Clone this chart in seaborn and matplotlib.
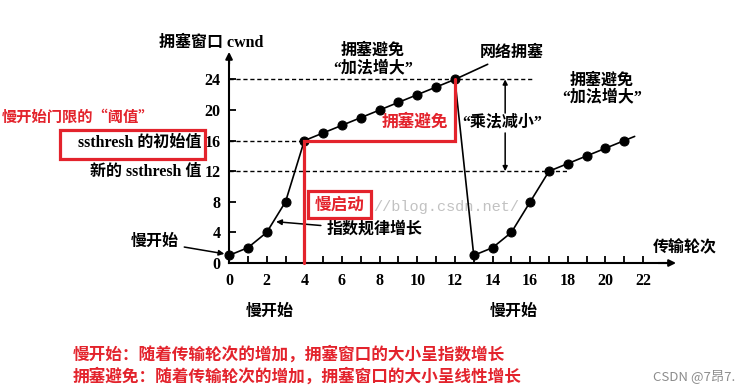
import matplotlib
matplotlib.use("Agg")
import matplotlib.pyplot as plt
from matplotlib.patches import Rectangle
import pandas as pd
import seaborn as sns

# 传输轮次与拥塞窗口 cwnd
rounds = list(range(0, 22))
cwnd = [1, 2, 4, 8, 16, 17, 18, 19, 20, 21, 22, 23, 24,
        1, 2, 4, 8, 12, 13, 14, 15, 16]
x_ticks = list(range(0, 23))
x_labels = [str(t) if t % 2 == 0 else "" for t in x_ticks]
y_ticks = [0, 4, 8, 12, 16, 20, 24]

ssthresh_init = 16
ssthresh_new = 12
cwnd_peak = 24
slow_start_end = 4       # 慢启动结束的轮次
congestion_round = 12    # 网络拥塞发生的轮次

RED = "#e3232c"
MIX = ["Liberation Serif", "Noto Sans CJK SC"]
CJK = ["Noto Sans CJK SC", "DejaVu Sans"]

sns.set_theme(style="white")
plt.rcParams["font.family"] = MIX

fig = plt.figure(figsize=(7.41, 3.90), dpi=100)
ax = fig.add_axes([0, 0, 1, 1])
ax.set_xlim(-12.17, 27.20)
ax.set_ylim(-16.60, 34.38)

df = pd.DataFrame({"round": rounds, "cwnd": cwnd})

# 参考虚线
ax.hlines([cwnd_peak, ssthresh_init, ssthresh_new], xmin=0,
          xmax=[16.15, slow_start_end, 18.0], colors="black",
          linestyles=(0, (3, 2)), linewidth=1.0, zorder=1)

# 水印
ax.text(7.65, 7.3, "//blog.csdn.net/", family="Liberation Mono", fontsize=11,
        color="#c2c2c2", ha="left", va="center", zorder=0)

# 主曲线
sns.lineplot(data=df, x="round", y="cwnd", sort=False, estimator=None,
             color="black", linewidth=1.2, marker="o", markersize=6.5,
             markeredgecolor="black", ax=ax, zorder=3)
tail_x = rounds[-1] + 0.55 * (rounds[-1] - rounds[-2])
tail_y = cwnd[-1] + 0.55 * (cwnd[-1] - cwnd[-2])
ax.plot([rounds[-1], tail_x], [cwnd[-1], tail_y], color="black", linewidth=1.2)

# 坐标轴
for side in ["top", "right"]:
    ax.spines[side].set_visible(False)
ax.spines["left"].set_position(("data", 0))
ax.spines["bottom"].set_position(("data", 0))
ax.spines["left"].set_bounds(0, 27.0)
ax.spines["bottom"].set_bounds(0, 23.2)
for side in ["left", "bottom"]:
    ax.spines[side].set_color("black")
    ax.spines[side].set_linewidth(1.5)
ax.annotate("", xy=(0, 27.6), xytext=(0, 26.0),
            arrowprops=dict(arrowstyle="-|>", color="black", lw=1.5,
                            mutation_scale=10, shrinkA=0, shrinkB=0))
ax.annotate("", xy=(23.75, 0), xytext=(22.8, 0),
            arrowprops=dict(arrowstyle="-|>", color="black", lw=1.5,
                            mutation_scale=10, shrinkA=0, shrinkB=0))

ax.set_xticks(x_ticks)
ax.set_xticklabels(x_labels)
ax.set_yticks(y_ticks)
ax.set_yticklabels([str(v) for v in y_ticks])
ax.tick_params(axis="both", direction="in", length=5, width=1.3, color="black",
               labelsize=11.5, labelcolor="black")
ax.tick_params(axis="x", pad=7)
ax.tick_params(axis="y", pad=6)
ax.tick_params(left=True, bottom=True)
for lab in ax.get_xticklabels() + ax.get_yticklabels():
    lab.set_fontweight("bold")
    lab.set_family("Liberation Serif")
ax.set_xlabel("")
ax.set_ylabel("")
ax.grid(False)

txt = dict(family=MIX, fontsize=11.5, fontweight="bold", color="black",
           va="center")
ax.text(-0.96, 28.76, "拥塞窗口 cwnd", ha="center", **txt)
ax.text(7.65, 27.7, "拥塞避免", ha="center", **txt)
ax.text(7.65, 25.5, "“加法增大”", ha="center", **txt)
ax.text(19.8, 23.9, "拥塞避免", ha="center", **txt)
ax.text(19.8, 21.6, "“加法增大”", ha="center", **txt)
ax.text(14.5, 18.43, "“乘法减小”", ha="center", **txt)
ax.text(-1.45, 15.7, "ssthresh 的初始值", ha="right", **txt)
ax.text(-1.45, 11.9, "新的 ssthresh 值", ha="right", **txt)
ax.text(22.5, 1.96, "传输轮次", ha="left", **txt)
ax.text(2.18, -6.4, "慢开始", ha="center", **txt)
ax.text(15.14, -6.4, "慢开始", ha="center", **txt)

ax.annotate("网络拥塞", xy=(congestion_round, cwnd_peak), xytext=(13.34, 27.45),
            ha="left", arrowprops=dict(arrowstyle="-", color="black", lw=1.2,
                                       shrinkA=0, shrinkB=0), **txt)
ax.annotate("慢开始", xy=(-0.25, 1.2), xytext=(-2.7, 2.75), ha="right",
            arrowprops=dict(arrowstyle="-|>", color="black", lw=1.1,
                            mutation_scale=8, shrinkA=2, shrinkB=0), **txt)
ax.annotate("指数规律增长", xy=(2.5, 5.4), xytext=(5.2, 4.3), ha="left",
            arrowprops=dict(arrowstyle="-|>", color="black", lw=1.1,
                            mutation_scale=8, shrinkA=2, shrinkB=0), **txt)

# 乘法减小的双向箭头
ax.annotate("", xy=(14.67, cwnd_peak), xytext=(14.67, 19.6),
            arrowprops=dict(arrowstyle="-|>", color="black", lw=1.1,
                            mutation_scale=7, shrinkA=0, shrinkB=0))
ax.annotate("", xy=(14.67, ssthresh_new), xytext=(14.67, 17.0),
            arrowprops=dict(arrowstyle="-|>", color="black", lw=1.1,
                            mutation_scale=7, shrinkA=0, shrinkB=0))

# 红色标注
ax.plot([slow_start_end, slow_start_end, congestion_round, congestion_round],
        [0, ssthresh_init, ssthresh_init, cwnd_peak],
        color=RED, linewidth=2.3, zorder=4, solid_joinstyle="miter")
ax.add_patch(Rectangle((-8.98, 13.59), 7.7, 3.8, fill=False, edgecolor=RED,
                       linewidth=2.3, zorder=4))
ax.add_patch(Rectangle((4.2, 5.88), 3.35, 3.53, fill=False, edgecolor=RED,
                       linewidth=2.3, zorder=4))
red = dict(family=CJK, fontsize=12, fontweight="bold", color=RED, va="center")
ax.text(5.87, 7.65, "慢启动", ha="center", **red)
ax.text(9.88, 18.43, "拥塞避免", ha="center", **red)
ax.text(-12.08, 19.08, "慢开始门限的“阈值”", ha="left",
        **{**red, "fontsize": 11})

fig.text(73 / 741, 1 - 355 / 390, "慢开始：随着传输轮次的增加，拥塞窗口的大小呈指数增长",
         ha="left", **red)
fig.text(73 / 741, 1 - 377 / 390, "拥塞避免：随着传输轮次的增加，拥塞窗口的大小呈线性增长",
         ha="left", **red)
fig.text(653 / 741, 1 - 376 / 390, "CSDN @7昂7.", family=CJK, fontsize=9.5,
         color="#8c8c8c", ha="left", va="center")

fig.savefig("out.png", dpi=100)
